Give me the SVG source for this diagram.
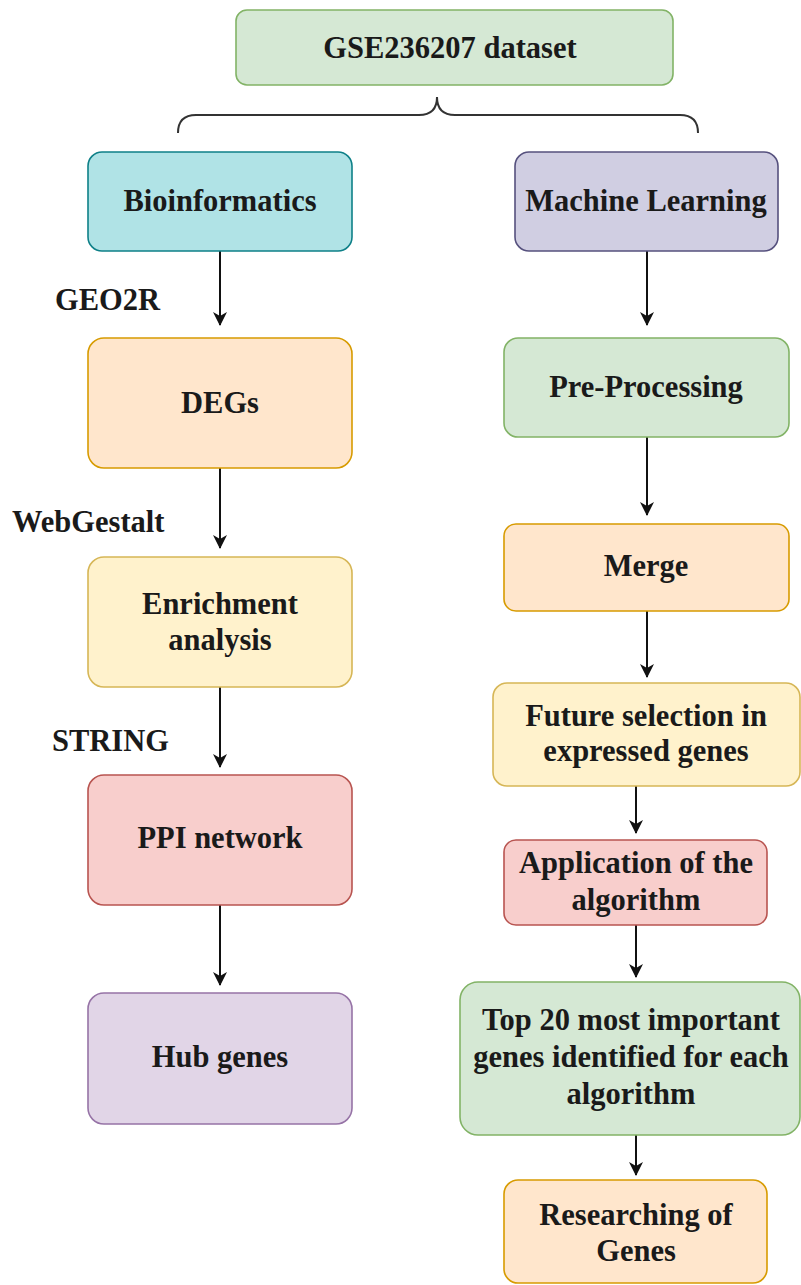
<svg xmlns="http://www.w3.org/2000/svg" width="801" height="1285" viewBox="0 0 801 1285" font-family="Liberation Serif, Times New Roman, serif" font-weight="bold">
  <defs>
    <style>
      .box { stroke-width: 1.6; }
      .lbl { font-size: 30.5px; fill: #1a1a1a; text-anchor: middle; }
      .side { font-size: 30.5px; fill: #1a1a1a; }
      .edge { stroke: #111; stroke-width: 2; fill: none; marker-end: url(#arrow); }
      .green { fill: #d5e8d4; stroke: #82b366; }
      .cyan { fill: #b0e3e6; stroke: #0e8088; }
      .orange { fill: #ffe6cc; stroke: #d79b00; }
      .yellow { fill: #fff2cc; stroke: #d6b656; }
      .red { fill: #f8cecc; stroke: #b85450; }
      .purple { fill: #e1d5e7; stroke: #9673a6; }
      .slate { fill: #d0cee2; stroke: #56517e; }
    </style>
    <marker id="arrow" viewBox="0 0 14 14" refX="13" refY="7" markerWidth="14" markerHeight="14" markerUnits="userSpaceOnUse" orient="auto">
      <path d="M0,0 L14,7 L0,14 L4,7 Z" fill="#111"/>
    </marker>
  </defs>

  <rect width="801" height="1285" fill="#ffffff"/>

  <!-- connectors -->
  <g id="connectors">
    <path d="M178,133 Q178,115 196,115 L419,115 Q437,115 437,97 Q437,115 455,115 L680,115 Q698,115 698,133" fill="none" stroke="#333" stroke-width="2"/>
    <line class="edge" x1="220" y1="251" x2="220" y2="325"/>
    <line class="edge" x1="220" y1="468" x2="220" y2="548"/>
    <line class="edge" x1="220" y1="687" x2="220" y2="767"/>
    <line class="edge" x1="220" y1="905" x2="220" y2="985"/>
    <line class="edge" x1="647" y1="251" x2="647" y2="325"/>
    <line class="edge" x1="647" y1="437" x2="647" y2="515"/>
    <line class="edge" x1="647" y1="611" x2="647" y2="677"/>
    <line class="edge" x1="636" y1="786" x2="636" y2="833"/>
    <line class="edge" x1="636" y1="925" x2="636" y2="977"/>
    <line class="edge" x1="636" y1="1135" x2="636" y2="1175"/>
  </g>

  <!-- tool labels on the left branch -->
  <g id="tool-labels">
    <text class="side" x="55" y="310">GEO2R</text>
    <text class="side" x="12" y="532">WebGestalt</text>
    <text class="side" x="52" y="751">STRING</text>
  </g>

  <g id="dataset">
    <rect class="box green" x="236" y="10" width="437" height="75" rx="11"/>
    <text class="lbl" x="450" y="58">GSE236207 dataset</text>
  </g>

  <!-- bioinformatics branch -->
  <g id="bioinformatics">
    <rect class="box cyan" x="88" y="152" width="264" height="99" rx="14"/>
    <text class="lbl" x="220" y="211">Bioinformatics</text>
  </g>
  <g id="degs">
    <rect class="box orange" x="88" y="338" width="264" height="130" rx="16"/>
    <text class="lbl" x="220" y="413">DEGs</text>
  </g>
  <g id="enrichment">
    <rect class="box yellow" x="88" y="557" width="264" height="130" rx="16"/>
    <text class="lbl" x="220" y="614">Enrichment</text>
    <text class="lbl" x="220" y="650">analysis</text>
  </g>
  <g id="ppi">
    <rect class="box red" x="88" y="775" width="264" height="130" rx="16"/>
    <text class="lbl" x="220" y="848">PPI network</text>
  </g>
  <g id="hub">
    <rect class="box purple" x="88" y="993" width="264" height="131" rx="16"/>
    <text class="lbl" x="220" y="1067">Hub genes</text>
  </g>

  <!-- machine learning branch -->
  <g id="ml">
    <rect class="box slate" x="515" y="152" width="263" height="99" rx="14"/>
    <text class="lbl" x="646" y="211">Machine Learning</text>
  </g>
  <g id="preprocessing">
    <rect class="box green" x="504" y="338" width="285" height="99" rx="14"/>
    <text class="lbl" x="646" y="397">Pre-Processing</text>
  </g>
  <g id="merge">
    <rect class="box orange" x="504" y="524" width="285" height="87" rx="12"/>
    <text class="lbl" x="646" y="576">Merge</text>
  </g>
  <g id="selection">
    <rect class="box yellow" x="493" y="683" width="307" height="103" rx="14"/>
    <text class="lbl" x="646" y="726">Future selection in</text>
    <text class="lbl" x="646" y="761">expressed genes</text>
  </g>
  <g id="application">
    <rect class="box red" x="504" y="840" width="263" height="85" rx="12"/>
    <text class="lbl" x="636" y="873">Application of the</text>
    <text class="lbl" x="636" y="910">algorithm</text>
  </g>
  <g id="top20">
    <rect class="box green" x="460" y="982" width="340" height="153" rx="18"/>
    <text class="lbl" x="631" y="1030">Top 20 most important</text>
    <text class="lbl" x="631" y="1067">genes identified for each</text>
    <text class="lbl" x="631" y="1104">algorithm</text>
  </g>
  <g id="researching">
    <rect class="box orange" x="504" y="1180" width="263" height="103" rx="14"/>
    <text class="lbl" x="636" y="1225">Researching of</text>
    <text class="lbl" x="636" y="1261">Genes</text>
  </g>
</svg>
